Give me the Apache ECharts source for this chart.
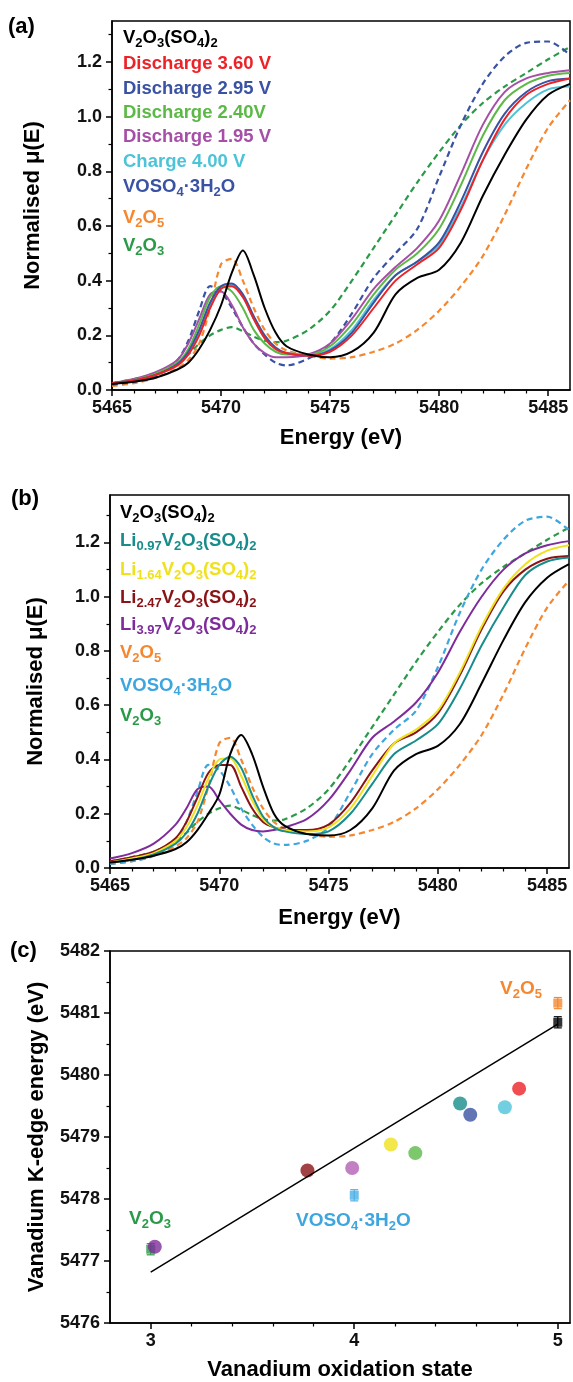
<!DOCTYPE html>
<html><head><meta charset="utf-8">
<script src="https://cdn.jsdelivr.net/npm/echarts@6/dist/echarts.min.js"></script>
<style>html,body{margin:0;padding:0;background:#fff}#c{width:573px;height:1382px}</style>
</head><body><div id="c"></div>
<script>
// ---------- DATA ----------
const energy = [5465,5466,5467,5468,5468.5,5469,5469.5,5470,5470.5,5471,5471.5,5472,5472.5,5473,5474,5475,5476,5477,5478,5479,5480,5481,5482,5483,5484,5485,5486];
// panel (a)
const aV2O3SO42 = [0.022,0.03,0.045,0.075,0.10,0.15,0.22,0.31,0.43,0.51,0.42,0.30,0.21,0.16,0.13,0.12,0.14,0.21,0.35,0.41,0.44,0.54,0.71,0.86,0.99,1.08,1.12];
const aDis360 = [0.025,0.035,0.055,0.09,0.13,0.20,0.30,0.37,0.38,0.34,0.26,0.19,0.15,0.135,0.125,0.14,0.20,0.30,0.40,0.46,0.52,0.66,0.84,0.99,1.08,1.12,1.14];
const aDis295 = [0.025,0.035,0.055,0.095,0.14,0.22,0.32,0.38,0.39,0.35,0.27,0.20,0.155,0.135,0.125,0.145,0.21,0.32,0.42,0.47,0.54,0.69,0.87,1.01,1.09,1.13,1.14];
const aDis240 = [0.025,0.037,0.06,0.10,0.15,0.24,0.34,0.38,0.36,0.30,0.22,0.17,0.14,0.13,0.13,0.16,0.24,0.35,0.44,0.50,0.59,0.75,0.93,1.06,1.12,1.15,1.16];
const aDis195 = [0.025,0.04,0.065,0.11,0.17,0.26,0.35,0.36,0.31,0.23,0.17,0.135,0.12,0.12,0.13,0.17,0.26,0.37,0.45,0.52,0.62,0.79,0.97,1.09,1.14,1.16,1.17];
const aCh400 = [0.025,0.035,0.055,0.09,0.135,0.21,0.31,0.375,0.385,0.34,0.26,0.19,0.15,0.135,0.13,0.15,0.22,0.33,0.42,0.47,0.53,0.67,0.84,0.97,1.05,1.10,1.11];
const aVOSO4 = [0.02,0.03,0.05,0.11,0.18,0.29,0.38,0.36,0.30,0.23,0.17,0.13,0.10,0.09,0.115,0.17,0.28,0.41,0.50,0.59,0.78,0.97,1.12,1.22,1.27,1.275,1.225];
const refV2O5 = [0.015,0.025,0.045,0.08,0.11,0.17,0.30,0.46,0.48,0.40,0.30,0.22,0.17,0.145,0.125,0.115,0.12,0.14,0.17,0.22,0.29,0.38,0.49,0.64,0.81,0.96,1.06];
const refV2O3 = [0.025,0.04,0.06,0.10,0.13,0.17,0.20,0.22,0.23,0.215,0.195,0.18,0.175,0.18,0.22,0.29,0.40,0.52,0.64,0.76,0.87,0.97,1.05,1.11,1.16,1.21,1.255];
// panel (b)
const bV2O3SO42 = [0.02,0.03,0.045,0.07,0.095,0.14,0.20,0.27,0.42,0.49,0.42,0.30,0.20,0.155,0.125,0.12,0.14,0.22,0.36,0.42,0.45,0.53,0.68,0.84,0.98,1.07,1.12];
const bLi097 = [0.02,0.03,0.05,0.09,0.13,0.20,0.30,0.38,0.41,0.37,0.27,0.19,0.15,0.135,0.125,0.135,0.20,0.31,0.42,0.47,0.53,0.66,0.82,0.96,1.08,1.13,1.145];
const bLi164 = [0.02,0.035,0.055,0.10,0.15,0.23,0.33,0.40,0.405,0.34,0.25,0.18,0.15,0.14,0.135,0.15,0.22,0.34,0.46,0.51,0.58,0.72,0.89,1.03,1.12,1.17,1.19];
const bLi247 = [0.025,0.04,0.06,0.11,0.17,0.26,0.35,0.38,0.38,0.30,0.22,0.17,0.15,0.14,0.14,0.16,0.24,0.36,0.46,0.50,0.57,0.71,0.88,1.02,1.10,1.14,1.15];
const bLi397 = [0.035,0.055,0.09,0.16,0.22,0.29,0.30,0.25,0.20,0.16,0.14,0.135,0.14,0.15,0.18,0.25,0.36,0.48,0.54,0.61,0.72,0.87,1.00,1.10,1.16,1.19,1.205];
const bVOSO4 = [0.015,0.025,0.045,0.10,0.17,0.28,0.38,0.36,0.30,0.22,0.16,0.115,0.09,0.085,0.10,0.15,0.28,0.42,0.51,0.58,0.74,0.94,1.10,1.21,1.28,1.295,1.245];
// panel (c)
const circX = [3.02,3.77,3.99,4.18,4.30,4.52,4.57,4.74,4.81];
const circY = [5477.23,5478.46,5478.50,5478.88,5478.74,5479.54,5479.36,5479.48,5479.78];
const sqX = [3.0,4.0,5.0,5.0];
const sqY = [5477.19,5478.06,5481.16,5480.85];
const sqErr = [0.09,0.09,0.09,0.09];
const fitX = [3.0,5.0];
const fitY = [5476.82,5480.82];
// tick values
const xMajorE = [5465,5470,5475,5480,5485];
const xMinorE = [5466,5467,5468,5469,5471,5472,5473,5474,5476,5477,5478,5479,5481,5482,5483,5484];
const yMajorMu = [0,0.2,0.4,0.6,0.8,1.0,1.2];
const yMinorMu = [0.1,0.3,0.5,0.7,0.9,1.1,1.3];
const xMajorOx = [3,4,5];
const xMinorOx = [3.2,3.4,3.6,3.8,4.2,4.4,4.6,4.8];
// legend texts
const legendA = ['V_{2}O_{3}(SO_{4})_{2}','Discharge 3.60 V','Discharge 2.95 V','Discharge 2.40V','Discharge 1.95 V','Charge 4.00 V','VOSO_{4}·3H_{2}O','V_{2}O_{5}','V_{2}O_{3}'];
const legendB = ['V_{2}O_{3}(SO_{4})_{2}','Li_{0.97}V_{2}O_{3}(SO_{4})_{2}','Li_{1.64}V_{2}O_{3}(SO_{4})_{2}','Li_{2.47}V_{2}O_{3}(SO_{4})_{2}','Li_{3.97}V_{2}O_{3}(SO_{4})_{2}','V_{2}O_{5}','VOSO_{4}·3H_{2}O','V_{2}O_{3}'];
const annC = ['V_{2}O_{5}','V_{2}O_{3}','VOSO_{4}·3H_{2}O'];

// ---------- STYLE ----------
const FONT = '"Liberation Sans", Arial, Helvetica, sans-serif';
const C = {
  black:'#000000', red:'#ec2227', blue:'#3a52a3', green:'#5cb947', magenta:'#a54fa6', cyan:'#4dc3da',
  orange:'#f6872f', v2o3:'#2b9a48', teal:'#178c8b', yellow:'#efe21d', darkred:'#8a1316', purple:'#7e2c9b', lblue:'#3ea6df'
};
const legendAColors = [C.black,C.red,C.blue,C.green,C.magenta,C.cyan,C.blue,C.orange,C.v2o3];
const legendAY = [37.5,64,89,113,137,162,187,218,246];
const legendBColors = [C.black,C.teal,C.yellow,C.darkred,C.purple,C.orange,C.lblue,C.v2o3];
const legendBY = [513,541,569.5,597.5,625,653,686,716];
const circColors = [C.purple,C.darkred,'#b35fb4',C.yellow,C.green,C.teal,C.blue,C.cyan,C.red];
const sqColors = [C.v2o3,'#4cb0e6',C.orange,C.black];
const annCColors = [C.orange,C.v2o3,C.lblue];
const annCPos = [[500,989],[129,1219],[296,1221]];

function chem(s){
  return s.replace(/_\{([^}]*)\}|([^_]+)/g,(m,sub,main)=> sub!==undefined ? '{s|'+sub+'}' : '{n|'+main+'}');
}
function rich(fs){
  return {
    n:{fontSize:fs,fontWeight:'bold',fontFamily:FONT,lineHeight:24},
    s:{fontSize:Math.round(fs*0.68),fontWeight:'bold',fontFamily:FONT,lineHeight:12,verticalAlign:'bottom'}
  };
}
function txt(s,x,y,color,fs){
  return {type:'text',x:x,y:y,z:50,style:{text:chem(s),rich:rich(fs),fill:color,align:'left',verticalAlign:'middle'}};
}
function plain(s,x,y,fs){
  return {type:'text',x:x,y:y,z:50,style:{text:s,fill:'#000',font:'bold '+fs+'px '+FONT,align:'left',verticalAlign:'middle'}};
}

const nameStyle = {fontSize:22,fontWeight:'bold',fontFamily:FONT,color:'#000'};
const lblStyle = {color:'#111',fontSize:18,fontWeight:'bold',fontFamily:FONT};
function xPair(gi,min,max,major,minor,name,gap){
  return [
    {type:'value',gridIndex:gi,min:min,max:max,position:'bottom',
     axisLine:{show:true,onZero:false,lineStyle:{color:'#000',width:1.5}},
     axisTick:{show:true,inside:false,length:6,customValues:major,lineStyle:{color:'#000',width:1.5}},
     axisLabel:Object.assign({show:true,customValues:major,margin:9,formatter:v=>String(v)},lblStyle),
     splitLine:{show:false},
     name:name,nameLocation:'middle',nameGap:gap,nameTextStyle:nameStyle},
    {type:'value',gridIndex:gi,min:min,max:max,position:'bottom',
     axisLine:{show:false,onZero:false},
     axisTick:{show:true,inside:false,length:3.5,customValues:minor,lineStyle:{color:'#000',width:1.2}},
     axisLabel:{show:false},splitLine:{show:false}}
  ];
}
function yPair(gi,min,max,major,minor,name,gap){
  return [
    {type:'value',gridIndex:gi,min:min,max:max,position:'left',
     axisLine:{show:true,onZero:false,lineStyle:{color:'#000',width:1.5}},
     axisTick:{show:true,inside:false,length:6,customValues:major,lineStyle:{color:'#000',width:1.5}},
     axisLabel:Object.assign({show:true,customValues:major,margin:10,formatter:v=>v.toFixed(1)},lblStyle),
     splitLine:{show:false},
     name:name,nameLocation:'middle',nameGap:gap,nameTextStyle:nameStyle},
    {type:'value',gridIndex:gi,min:min,max:max,position:'left',
     axisLine:{show:false,onZero:false},
     axisTick:{show:true,inside:false,length:3.5,customValues:minor,lineStyle:{color:'#000',width:1.2}},
     axisLabel:{show:false},splitLine:{show:false}}
  ];
}
function line(arr,color,xi,dashed){
  return {type:'line',xAxisIndex:xi,yAxisIndex:xi,data:energy.map((e,i)=>[e,arr[i]]),
    showSymbol:false,symbol:'none',smooth:0.3,silent:true,
    lineStyle:{color:color,width:dashed?2.2:2,type:dashed?[6,4]:'solid'},itemStyle:{color:color}};
}

const gridBase = {show:true,borderColor:'#000',borderWidth:1.5,backgroundColor:'transparent',containLabel:false,outerBoundsMode:'none'};
const option = {
  animation:false,
  backgroundColor:'#fff',
  grid:[
    Object.assign({left:112,top:21,width:458,height:369},gridBase),
    Object.assign({left:110,top:495,width:459,height:373},gridBase),
    Object.assign({left:110,top:951,width:460,height:372},gridBase)
  ],
  xAxis:[
    ...xPair(0,5465,5486,xMajorE,xMinorE,'Energy (eV)',37),
    ...xPair(1,5465,5486,xMajorE,xMinorE,'Energy (eV)',39),
    ...xPair(2,2.8,5.06,xMajorOx,xMinorOx,'Vanadium oxidation state',36)
  ],
  yAxis:[
    ...yPair(0,0,1.35,yMajorMu,yMinorMu,'Normalised μ(E)',68),
    ...yPair(1,0,1.375,yMajorMu,yMinorMu,'Normalised μ(E)',63),
    {type:'value',gridIndex:2,min:5476,max:5482,interval:1,position:'left',
     axisLine:{show:true,onZero:false,lineStyle:{color:'#000',width:1.5}},
     axisTick:{show:true,inside:false,length:6,lineStyle:{color:'#000',width:1.5}},
     minorTick:{show:true,splitNumber:2,length:3.5,lineStyle:{color:'#000',width:1.2}},
     axisLabel:Object.assign({show:true,margin:10,formatter:v=>String(v)},lblStyle),
     splitLine:{show:false},minorSplitLine:{show:false},
     name:'Vanadium K-edge energy (eV)',nameLocation:'middle',nameGap:62,nameTextStyle:nameStyle}
  ],
  series:[
    line(refV2O3,C.v2o3,0,true),
    line(refV2O5,C.orange,0,true),
    line(aVOSO4,C.blue,0,true),
    line(aCh400,C.cyan,0,false),
    line(aDis195,C.magenta,0,false),
    line(aDis240,C.green,0,false),
    line(aDis295,C.blue,0,false),
    line(aDis360,C.red,0,false),
    line(aV2O3SO42,C.black,0,false),

    line(refV2O3,C.v2o3,2,true),
    line(refV2O5,C.orange,2,true),
    line(bVOSO4,C.lblue,2,true),
    line(bLi397,C.purple,2,false),
    line(bLi247,C.darkred,2,false),
    line(bLi164,C.yellow,2,false),
    line(bLi097,C.teal,2,false),
    line(bV2O3SO42,C.black,2,false),

    {type:'line',xAxisIndex:4,yAxisIndex:4,data:fitX.map((x,i)=>[x,fitY[i]]),showSymbol:false,symbol:'none',silent:true,
     lineStyle:{color:'#000',width:1.5}},
    {type:'custom',xAxisIndex:4,yAxisIndex:4,silent:true,
     data:sqX.map((x,i)=>[x,sqY[i],sqErr[i]]),
     renderItem:(params,api)=>{
       const x=api.value(0),y=api.value(1),e=api.value(2);
       const p1=api.coord([x,y+e]),p2=api.coord([x,y-e]);
       const col=sqColors[params.dataIndex],w=4;
       const st={stroke:col,lineWidth:1.2};
       return {type:'group',children:[
         {type:'line',shape:{x1:p1[0],y1:p1[1],x2:p2[0],y2:p2[1]},style:st},
         {type:'line',shape:{x1:p1[0]-w,y1:p1[1],x2:p1[0]+w,y2:p1[1]},style:st},
         {type:'line',shape:{x1:p2[0]-w,y1:p2[1],x2:p2[0]+w,y2:p2[1]},style:st}
       ]};
     }},
    {type:'scatter',xAxisIndex:4,yAxisIndex:4,symbol:'rect',symbolSize:9,silent:true,
     data:sqX.map((x,i)=>({value:[x,sqY[i]],itemStyle:{color:sqColors[i]}}))},
    {type:'scatter',xAxisIndex:4,yAxisIndex:4,symbol:'circle',symbolSize:14,silent:true,
     data:circX.map((x,i)=>({value:[x,circY[i]],itemStyle:{color:circColors[i]}}))}
  ],
  graphic:[
    plain('(a)',8,27,22), plain('(b)',11,499,22), plain('(c)',10,951,22),
    ...legendA.map((s,i)=>txt(s,123,legendAY[i],legendAColors[i],18.5)),
    ...legendB.map((s,i)=>txt(s,120,legendBY[i],legendBColors[i],18.5)),
    ...annC.map((s,i)=>txt(s,annCPos[i][0],annCPos[i][1],annCColors[i],19))
  ]
};
const chart = echarts.init(document.getElementById('c'),null,{renderer:'canvas'});
chart.setOption(option);
</script></body></html>
